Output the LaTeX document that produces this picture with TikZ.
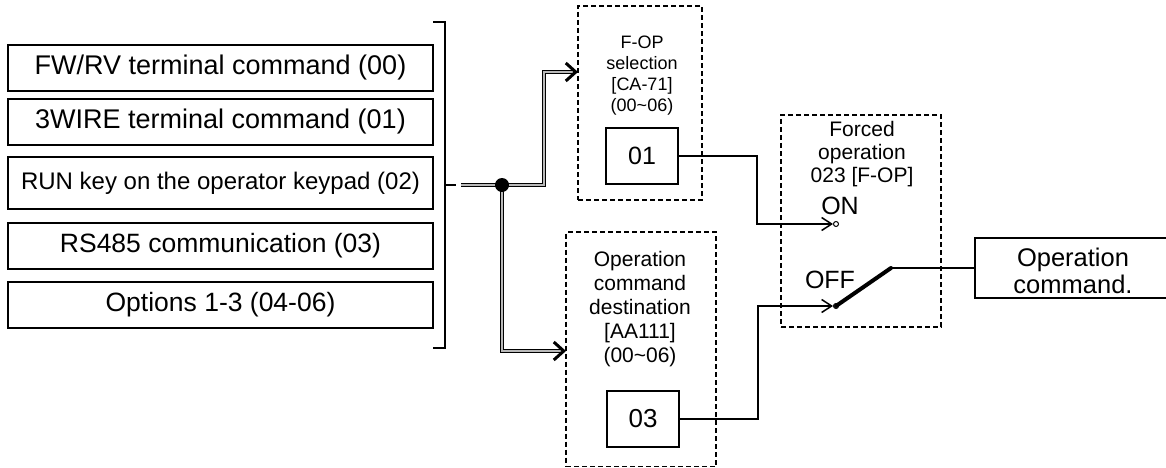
\documentclass[tikz,border=0pt]{standalone}
\usepackage{fontspec}
\setmainfont{Liberation Sans}
\usetikzlibrary{arrows.meta}
\newcommand\fsz[2]{\fontsize{#1}{#2}\selectfont}
\begin{document}
\begin{tikzpicture}[x=1pt,y=-1pt,
  src/.style={draw, line width=1.6pt, minimum width=425pt, inner sep=0pt, outer sep=0pt},
  dbox/.style={draw, dash pattern=on 5pt off 3pt, line width=1.7pt, inner sep=0pt, outer sep=0pt},
  vbox/.style={draw, line width=1.6pt, minimum width=72pt, minimum height=56pt, inner sep=0pt, outer sep=0pt},
  lbl/.style={align=center, inner sep=0pt},
  wire/.style={line width=1.5pt},
  arr/.style={wire, -{Straight Barb[length=10pt,width=13pt]}},
  dbl/.style={draw=black, line width=0.9pt, double=gray!55, double distance=2.4pt},
  chev/.style={line width=3pt, -{Straight Barb[length=10pt,width=18pt]}},
  contact/.style={circle, draw, fill=white, line width=1pt, inner sep=0pt, minimum size=5pt},
  jdot/.style={circle, fill=black, inner sep=0pt, minimum size=14pt}
]
\useasboundingbox (0,0) rectangle (1166,468);

% source boxes
\node[src, minimum height=46pt, font=\fsz{27}{32}] (b1) at (220.5,68) {FW/RV terminal command (00)};
\node[src, minimum height=46pt, font=\fsz{27}{32}] (b2) at (220.5,122) {3WIRE terminal command (01)};
\node[src, minimum height=52pt, font=\fsz{24}{28}] (b3) at (220.5,183) {RUN key on the operator keypad (02)};
\node[src, minimum height=46pt, font=\fsz{26.5}{30}] (b4) at (220.5,246) {RS485 communication (03)};
\node[src, minimum height=46pt, font=\fsz{26.5}{30}] (b5) at (220.5,305) {Options 1-3 (04-06)};

% bracket
\draw[wire] (433,22) -- (445,22) -- (445,348) -- (433,348);
\coordinate (tickA) at (445,185);
\coordinate (tickB) at (456,185);
\draw[wire] (tickA) -- (tickB);

% dashed function boxes
\node[dbox, minimum width=124pt, minimum height=194pt] (fop) at (640,103) {};
\node[lbl, font=\fsz{18}{21}] (fopt) at (642,76) {F-OP\\selection\\{[CA-71]}\\(00\textasciitilde06)};
\node[vbox, font=\fsz{25}{30}] (o1) at (642,156) {01};

\node[dbox, minimum width=150pt, minimum height=234.5pt] (aa) at (641,349.25) {};
\node[lbl, font=\fsz{21}{24}] (aat) at (640,309.5) {Operation\\command\\destination\\{[AA111]}\\(00\textasciitilde06)};
\node[vbox, font=\fsz{26}{30}] (o3) at (643,419) {03};

\node[dbox, minimum width=160pt, minimum height=212pt] (fo) at (861,221) {};
\node[lbl, font=\fsz{21}{23}] (fot) at (862,154) {Forced\\operation\\023 {[F-OP]}};

% output box
\node[draw, line width=1.6pt, minimum width=200pt, minimum height=60pt, inner sep=0pt, outer sep=0pt] (opc) at (1075,268) {};
\node[lbl, font=\fsz{25.5}{27}] (opct) at (1073,271) {Operation\\command.};

% double-line distribution
\coordinate (dstart) at (461,185);
\coordinate (fopin) at (578,72);
\coordinate (aain) at (566,351);
\draw[dbl] (dstart) -- (502,185) -- (544,185) -- (544,72) -- ([xshift=-4pt]fopin);
\draw[dbl] (502,185) -- (502,351) -- ([xshift=-4pt]aain);
\node[jdot] (j) at (502,185) {};
\draw[chev] ([xshift=-2pt]fopin) -- (fopin);
\draw[chev] ([xshift=-2pt]aain) -- (aain);

% switch
\node[contact] (onc) at (836,224) {};
\node[contact] (offc) at (836,306) {};
\node[lbl, font=\fsz{25}{28}] (ont) at (840,206) {ON};
\node[lbl, font=\fsz{25}{28}] (offt) at (830,280) {OFF};
\draw[arr] (o1.east) -- (757,156) |- (onc.west);
\draw[arr] (o3.east) -- (758,419) |- (offc.west);
\coordinate (bl) at (891,268);
\draw[line width=4pt, line cap=round] (offc.center) -- (bl);
\draw[wire] (bl) -- (opc.west);
\end{tikzpicture}
\end{document}
